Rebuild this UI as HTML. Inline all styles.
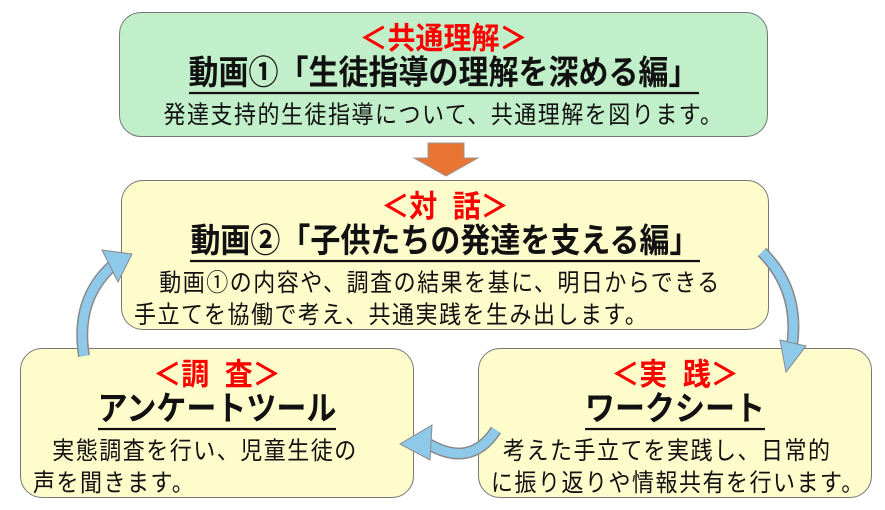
<!DOCTYPE html>
<html><head><meta charset="utf-8"><style>
body{margin:0;width:885px;height:510px;background:#fff;position:relative;overflow:hidden;font-family:"Liberation Sans","Noto Sans CJK JP",sans-serif;}
.box{position:absolute;border:1.5px solid #777;border-radius:22px;box-sizing:border-box;}
.t{position:absolute;left:0;right:0;text-align:center;white-space:nowrap;color:#111;}
.red{color:#f00;font-size:28px;font-weight:bold;transform:scaleY(1.1);}
.big{font-size:30px;font-weight:bold;transform:scaleY(1.12);}
.big span{border-bottom:2px solid #111;line-height:1.05;}
.s{font-size:22px;letter-spacing:1.5px;transform:scaleY(1.12);transform-origin:left center;}
.l{text-align:left;}
</style></head><body>
<div class="box" style="left:119px;top:12px;width:649px;height:125px;background:#c1efc9">
<div class="t red" style="top:4px">＜共通理解＞</div>
<div class="t big" style="top:44px"><span>動画①「生徒指導の理解を深める編」</span></div>
<div class="t s" style="top:84px;transform-origin:center">発達支持的生徒指導について、共通理解を図ります。</div>
</div>
<svg width="885" height="510" style="position:absolute;left:0;top:0">
<polygon points="428,143 464,143 464,158 478,158 446,176 414,158 428,158" fill="#e87533" stroke="#999" stroke-width="1"/>
</svg>
<div class="box" style="left:121px;top:180px;width:648px;height:150px;background:#fefccb">
<div class="t red" style="top:4px">＜対&nbsp;&nbsp;話＞</div>
<div class="t big" style="top:44px"><span>動画②「子供たちの発達を支える編」</span></div>
<div class="t s l" style="top:84px;left:22px">&nbsp;&nbsp;動画①の内容や、調査の結果を基に、明日からできる</div>
<div class="t s l" style="top:116px;left:12px">手立てを協働で考え、共通実践を生み出します。</div>
</div>
<div class="box" style="left:20px;top:348px;width:394px;height:150px;background:#fefccb">
<div class="t red" style="top:4px">＜調&nbsp;&nbsp;査＞</div>
<div class="t big" style="top:44px"><span>アンケートツール</span></div>
<div class="t s l" style="top:84px;left:16px">&nbsp;&nbsp;実態調査を行い、児童生徒の</div>
<div class="t s l" style="top:116px;left:12px">声を聞きます。</div>
</div>
<div class="box" style="left:478px;top:348px;width:394px;height:150px;background:#fefccb">
<div class="t red" style="top:4px">＜実&nbsp;&nbsp;践＞</div>
<div class="t big" style="top:44px"><span>ワークシート</span></div>
<div class="t s l" style="top:84px;left:24px">考えた手立てを実践し、日常的</div>
<div class="t s l" style="top:116px;left:12px">に振り返りや情報共有を行います。</div>
</div>
<svg width="885" height="510" style="position:absolute;left:0;top:0">
<g fill="none" stroke-linecap="butt">
<path d="M84,356 Q75,300 112,266" stroke="#888" stroke-width="12"/>
<path d="M84,356 Q75,300 112,266" stroke="#8ec9ea" stroke-width="9"/>
<path d="M762,252 Q800,290 792,346" stroke="#888" stroke-width="12"/>
<path d="M762,252 Q800,290 792,346" stroke="#8ec9ea" stroke-width="9"/>
<path d="M496,430 Q470,470 425,442" stroke="#888" stroke-width="12"/>
<path d="M496,430 Q470,470 425,442" stroke="#8ec9ea" stroke-width="9"/>
</g>
<polygon points="102,250 132,254 118,282" fill="#8ec9ea" stroke="#888" stroke-width="1"/>
<polygon points="780,340 806,346 786,372" fill="#8ec9ea" stroke="#888" stroke-width="1"/>
<polygon points="432,425 400,444 430,460" fill="#8ec9ea" stroke="#888" stroke-width="1"/>
</svg>
</body></html>
